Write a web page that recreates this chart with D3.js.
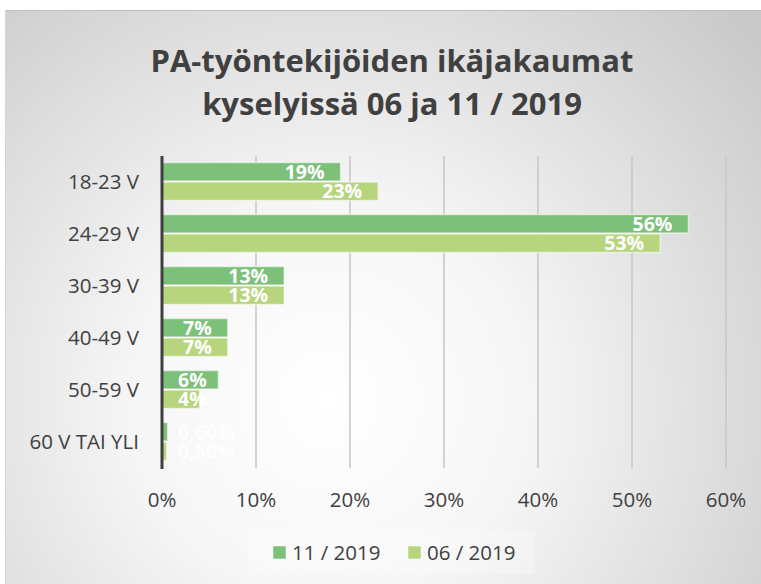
<!DOCTYPE html>
<html>
<head>
<meta charset="utf-8">
<script src="https://cdn.jsdelivr.net/npm/d3@7"></script>
<style>
  body { margin: 0; background: #fff; }
  text { font-family: "Open Sans", sans-serif; }
</style>
</head>
<body>
<script>
var categories = ['18-23 V', '24-29 V', '30-39 V', '40-49 V', '50-59 V', '60 V TAI YLI'];
var nov2019 = [19, 56, 13, 7, 6, 0.6];
var jun2019 = [23, 53, 13, 7, 4, 0.5];
var novLabels = ['19%', '56%', '13%', '7%', '6%', '0,60%'];
var junLabels = ['23%', '53%', '13%', '7%', '4%', '0,50%'];
var seriesNames = ['11 / 2019', '06 / 2019'];
var seriesColors = ['#7cc07a', '#b7d57d'];
var ticks = [0, 10, 20, 30, 40, 50, 60];

var W = 761, H = 584;
var svg = d3.select('body').append('svg').attr('width', W).attr('height', H);

// taustan liukuväri
var defs = svg.append('defs');
var grad = defs.append('radialGradient').attr('id', 'bg')
    .attr('gradientUnits', 'userSpaceOnUse')
    .attr('cx', 330).attr('cy', 400).attr('r', 560);
grad.append('stop').attr('offset', '0%').attr('stop-color', '#ffffff');
grad.append('stop').attr('offset', '35%').attr('stop-color', '#f6f6f6');
grad.append('stop').attr('offset', '100%').attr('stop-color', '#c9c9c9');

svg.append('rect').attr('x', 5).attr('y', 10).attr('width', W - 5).attr('height', H - 10)
    .attr('fill', 'url(#bg)');
svg.append('line').attr('x1', 5).attr('x2', W).attr('y1', 10.5).attr('y2', 10.5)
    .attr('stroke', '#bdbdbd').attr('stroke-width', 1);
svg.append('line').attr('x1', 5.5).attr('x2', 5.5).attr('y1', 10).attr('y2', H)
    .attr('stroke', '#d6d6d6').attr('stroke-width', 1);

// otsikko
var title = svg.append('text').attr('text-anchor', 'middle')
    .attr('fill', '#404040').attr('font-weight', 'bold').attr('font-size', 31);
title.append('tspan').attr('x', 392).attr('y', 72).text('PA-työntekijöiden ikäjakaumat');
title.append('tspan').attr('x', 392).attr('y', 115).text('kyselyissä 06 ja 11 / 2019');

var x = d3.scaleLinear().domain([0, 60]).range([162, 726]);
var y = d3.scaleBand().domain(categories).range([156, 468]);
var inner = d3.scaleBand().domain([0, 1]).range([6.5, 45.5]).padding(0);

// ruudukko
svg.append('g').selectAll('line').data(ticks.slice(1)).join('line')
    .attr('x1', d => x(d)).attr('x2', d => x(d))
    .attr('y1', 156).attr('y2', 468)
    .attr('stroke', '#c6c6c6').attr('stroke-width', 1.5);

// x-akselin tekstit
svg.append('g').selectAll('text').data(ticks).join('text')
    .attr('x', d => x(d)).attr('y', 507)
    .attr('text-anchor', 'middle').attr('font-size', 20.5).attr('fill', '#404040')
    .text(d => d + '%');

// luokat
svg.append('g').selectAll('text').data(categories).join('text')
    .attr('x', 139).attr('y', d => y(d) + y.bandwidth() / 2 + 7)
    .attr('text-anchor', 'end').attr('font-size', 20.5).attr('fill', '#404040')
    .text(d => d);

var series = [nov2019, jun2019];
var labels = [novLabels, junLabels];

series.forEach(function (vals, s) {
    var g = svg.append('g');
    g.selectAll('rect').data(vals).join('rect')
        .attr('x', x(0))
        .attr('y', (d, i) => y(categories[i]) + inner(s))
        .attr('width', d => x(d) - x(0))
        .attr('height', inner.bandwidth() - 1)
        .attr('fill', seriesColors[s])
        .attr('stroke', 'rgba(255,255,255,0.55)').attr('stroke-width', 1.5);

    g.selectAll('text').data(vals).join('text')
        .attr('y', (d, i) => y(categories[i]) + inner(s) + inner.bandwidth() / 2 + 6.5)
        .attr('font-size', 19.5).attr('font-weight', 'bold')
        .attr('fill', (d) => d < 1 ? 'rgba(255,255,255,0.85)' : '#fff')
        .text((d, i) => labels[s][i])
        .each(function (d) {
            var w = this.getComputedTextLength();
            var px = Math.max(x(d) - 16 - w, x(0) + 16);
            d3.select(this).attr('x', px);
        });
});

// pystyakseli
svg.append('line').attr('x1', x(0)).attr('x2', x(0)).attr('y1', 156).attr('y2', 469)
    .attr('stroke', '#3f3f3f').attr('stroke-width', 3);

// selite
var leg = svg.append('g');
leg.append('rect').attr('x', 248).attr('y', 530).attr('width', 287).attr('height', 44)
    .attr('fill', 'rgba(255,255,255,0.25)');
var legX = [273, 408];
seriesNames.forEach(function (n, i) {
    leg.append('rect').attr('x', legX[i]).attr('y', 546).attr('width', 13).attr('height', 13)
        .attr('fill', seriesColors[i]).attr('stroke', 'rgba(255,255,255,0.5)');
    leg.append('text').attr('x', legX[i] + 19).attr('y', 560)
        .attr('font-size', 20.5).attr('fill', '#404040').text(n);
});
</script>
</body>
</html>
